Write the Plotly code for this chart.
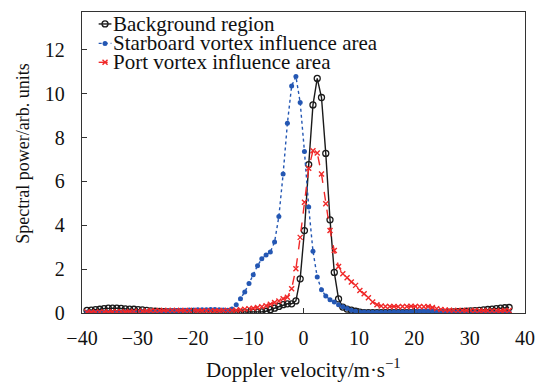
import plotly.graph_objects as go

# ---------------- data ----------------
velocity = [
    -39.10, -38.33, -37.56, -36.79, -36.02, -35.25, -34.48, -33.71, -32.94, -32.17,
    -31.40, -30.63, -29.86, -29.09, -28.32, -27.55, -26.78, -26.01, -25.24, -24.47,
    -23.70, -22.93, -22.16, -21.39, -20.62, -19.85, -19.08, -18.31, -17.54, -16.77,
    -16.00, -15.23, -14.46, -13.69, -12.92, -12.15, -11.38, -10.61, -9.84, -9.07,
    -8.30, -7.53, -6.76, -5.99, -5.22, -4.45, -3.68, -2.91, -2.14, -1.37,
    -0.60, 0.17, 0.94, 1.71, 2.48, 3.25, 4.02, 4.79, 5.56, 6.33,
    7.10, 7.87, 8.64, 9.41, 10.18, 10.95, 11.72, 12.49, 13.26, 14.03,
    14.80, 15.57, 16.34, 17.11, 17.88, 18.65, 19.42, 20.19, 20.96, 21.73,
    22.50, 23.27, 24.04, 24.81, 25.58, 26.35, 27.12, 27.89, 28.66, 29.43,
    30.20, 30.97, 31.74, 32.51, 33.28, 34.05, 34.82, 35.59, 36.36, 37.13,
]

background = [
    0.12, 0.13, 0.15, 0.17, 0.20, 0.22, 0.22, 0.22, 0.21, 0.19,
    0.18, 0.17, 0.15, 0.14, 0.12, 0.10, 0.08, 0.07, 0.06, 0.05,
    0.05, 0.05, 0.04, 0.04, 0.03, 0.03, 0.03, 0.02, 0.02, 0.02,
    0.02, 0.02, 0.02, 0.02, 0.02, 0.02, 0.02, 0.02, 0.02, 0.03,
    0.04, 0.05, 0.08, 0.15, 0.22, 0.30, 0.38, 0.42, 0.42, 0.55,
    1.56, 3.76, 6.77, 9.49, 10.70, 9.83, 7.28, 4.25, 1.85, 0.64,
    0.27, 0.18, 0.13, 0.08, 0.04, 0.02, 0.02, 0.02, 0.02, 0.02,
    0.02, 0.02, 0.02, 0.02, 0.02, 0.02, 0.02, 0.02, 0.02, 0.02,
    0.02, 0.02, 0.02, 0.02, 0.02, 0.04, 0.05, 0.06, 0.07, 0.08,
    0.10, 0.11, 0.12, 0.14, 0.16, 0.18, 0.20, 0.22, 0.24, 0.25,
]

starboard = [
    0.03, 0.02, 0.02, 0.02, 0.02, 0.02, 0.02, 0.02, 0.02, 0.03,
    0.03, 0.03, 0.03, 0.04, 0.04, 0.05, 0.06, 0.07, 0.08, 0.09,
    0.10, 0.11, 0.12, 0.13, 0.14, 0.14, 0.15, 0.15, 0.15, 0.16,
    0.16, 0.15, 0.14, 0.12, 0.18, 0.38, 0.65, 0.96, 1.34, 1.75,
    2.16, 2.47, 2.65, 2.78, 3.24, 4.40, 6.34, 8.65, 10.36, 10.79,
    9.60, 7.37, 4.83, 2.82, 1.64, 1.06, 0.77, 0.61, 0.50, 0.38,
    0.28, 0.20, 0.13, 0.08, 0.05, 0.04, 0.03, 0.03, 0.03, 0.03,
    0.03, 0.03, 0.04, 0.04, 0.05, 0.05, 0.06, 0.07, 0.08, 0.08,
    0.09, 0.09, 0.09, 0.08, 0.08, 0.07, 0.06, 0.05, 0.04, 0.04,
    0.03, 0.03, 0.02, 0.02, 0.02, 0.02, 0.02, 0.02, 0.02, 0.02,
]

port = [
    0.05, 0.05, 0.05, 0.05, 0.05, 0.05, 0.06, 0.06, 0.06, 0.06,
    0.07, 0.07, 0.08, 0.08, 0.09, 0.10, 0.10, 0.11, 0.12, 0.12,
    0.12, 0.12, 0.12, 0.11, 0.11, 0.11, 0.10, 0.10, 0.10, 0.10,
    0.10, 0.10, 0.11, 0.12, 0.12, 0.13, 0.15, 0.17, 0.20, 0.22,
    0.25, 0.28, 0.33, 0.40, 0.48, 0.55, 0.65, 0.72, 1.11, 2.02,
    3.45, 5.05, 6.60, 7.40, 7.30, 6.34, 4.98, 3.76, 2.85, 2.12,
    1.79, 1.61, 1.41, 1.26, 1.03, 0.88, 0.70, 0.50, 0.38, 0.32,
    0.30, 0.30, 0.30, 0.29, 0.30, 0.30, 0.31, 0.30, 0.30, 0.28,
    0.30, 0.25, 0.20, 0.16, 0.14, 0.13, 0.12, 0.12, 0.12, 0.11,
    0.11, 0.11, 0.10, 0.10, 0.10, 0.10, 0.10, 0.10, 0.11, 0.11,
]

series_names = ["Background region", "Starboard vortex influence area", "Port vortex influence area"]
x_ticks = [-40, -30, -20, -10, 0, 10, 20, 30, 40]
y_ticks = [0, 2, 4, 6, 8, 10, 12]

# ---------------- styling ----------------
W, H = 546, 382
L, R, T, B = 82, 12, 11, 69
PW, PH = W - L - R, H - T - B
FONT = "'Liberation Serif', 'Times New Roman', serif"
BLACK = "#1a1a1a"
BLUE = "#2457b3"
RED = "#f02828"

def px_x(px):
    return (px - L) / PW

def px_y(py):
    return (H - B - py) / PH

styles = [
    dict(line=dict(color=BLACK, width=1.4, dash="solid"),
         marker=dict(symbol="circle-open", size=6, color=BLACK, line=dict(width=1.3, color=BLACK))),
    dict(line=dict(color=BLUE, width=1.4, dash="dot"),
         marker=dict(symbol="circle", size=5, color=BLUE, line=dict(width=0))),
    dict(line=dict(color=RED, width=1.4, dash="dash"),
         marker=dict(symbol="x-thin-open", size=5, color=RED, line=dict(width=1.4, color=RED))),
]

fig = go.Figure()
for name, ys, st in zip(series_names, [background, starboard, port], styles):
    fig.add_trace(go.Scatter(x=velocity, y=ys, name=name, mode="lines+markers",
                             line=st["line"], marker=st["marker"], showlegend=False))

# custom legend (compact rows like the reference)
rows_py = [23, 42.5, 61.5]
for name, st, py in zip(series_names, styles, rows_py):
    fig.add_trace(go.Scatter(x=[px_x(99), px_x(112)], y=[px_y(py), px_y(py)], mode="lines",
                             line=st["line"], xaxis="x2", yaxis="y2", showlegend=False,
                             hoverinfo="skip"))
    fig.add_trace(go.Scatter(x=[px_x(105.5)], y=[px_y(py)], mode="markers",
                             marker=st["marker"], xaxis="x2", yaxis="y2", showlegend=False,
                             hoverinfo="skip"))
    fig.add_annotation(x=px_x(112), y=px_y(py), xref="paper", yref="paper", text=name,
                       showarrow=False, xanchor="left", yanchor="middle",
                       font=dict(family=FONT, size=21, color="#111"))

# axis titles
fig.add_annotation(x=px_x(308), y=px_y(369), xref="paper", yref="paper",
                   text="Doppler velocity/m·s<sup>−1</sup>", showarrow=False,
                   xanchor="center", yanchor="middle", font=dict(family=FONT, size=21, color="#111"))
fig.add_annotation(x=px_x(21), y=px_y(153), xref="paper", yref="paper",
                   text="Spectral power/arb. units", showarrow=False, textangle=-90,
                   xanchor="center", yanchor="middle", font=dict(family=FONT, size=18, color="#111"))

axis_common = dict(showgrid=False, zeroline=False, showline=True, linecolor="#333", linewidth=1.3,
                   ticks="inside", ticklen=5, tickwidth=1.2, tickcolor="#333", mirror=True,
                   tickfont=dict(family=FONT, size=20, color="#111"))

fig.update_layout(
    width=W, height=H,
    font=dict(family=FONT, size=20, color="#111"),
    margin=dict(l=L, r=R, t=T, b=B, pad=0),
    paper_bgcolor="white", plot_bgcolor="white",
    showlegend=False,
    xaxis=dict(range=[-40, 40], tickvals=x_ticks, ticklabelstandoff=7, **axis_common),
    yaxis=dict(range=[0, 13.73], tickvals=y_ticks, ticklabelstandoff=12, **axis_common),
    xaxis2=dict(overlaying="x", range=[0, 1], visible=False),
    yaxis2=dict(overlaying="y", range=[0, 1], visible=False),
)

fig.write_html("out.html")
